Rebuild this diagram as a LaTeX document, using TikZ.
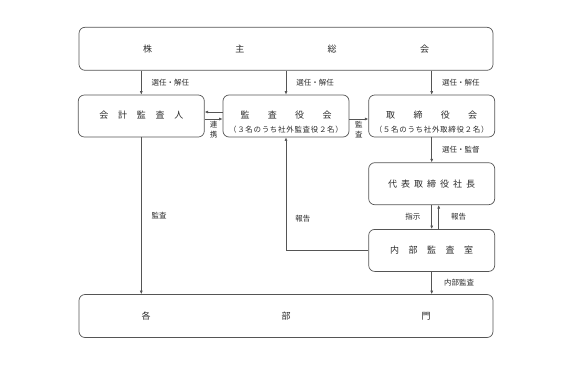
\documentclass[tikz,border=0pt]{standalone}
\usepackage{fontspec}
\setmainfont{Noto Sans CJK JP}
\usepackage{xcolor}
\usetikzlibrary{arrows.meta,positioning}
\definecolor{linegray}{HTML}{555555}
\definecolor{textgray}{HTML}{2A2A2A}

\begin{document}
\begin{tikzpicture}[
    node distance=18pt,
    box/.style={draw=linegray, line width=0.7pt, rounded corners=6pt, minimum width=126pt, minimum height=42pt, align=center, text=textgray, font=\fontsize{9pt}{11pt}\selectfont},
    widebox/.style={box, minimum width=414pt, minimum height=43pt},
    arrow/.style={-{Latex[length=3.5pt,width=3pt]}, linegray, line width=0.6pt},
    lbl/.style={text=textgray, inner sep=2pt, font=\fontsize{7.5pt}{9.5pt}\selectfont},
    sub/.style={text=textgray, inner sep=2pt, yshift=2pt, anchor=south, font={\fontsize{7.5pt}{9pt}\selectfont\addfontfeatures{LetterSpace=9}}}
]
    \useasboundingbox (0,0) rectangle (578pt,-375pt);

    \node[box, label={[sub]south:（３名のうち社外監査役２名）}] (kansa) at (286pt,-116pt) {\raisebox{3pt}{\makebox[91pt]{監\hfill 査\hfill 役\hfill 会}}};
    \node[box, left=of kansa] (auditor) {\raisebox{3pt}{\makebox[84pt]{会\hfill 計\hfill 監\hfill 査\hfill 人}}};
    \node[box, right=19pt of kansa, label={[sub]south:（５名のうち社外取締役２名）}] (board) {\raisebox{3pt}{\makebox[91pt]{取\hfill 締\hfill 役\hfill 会}}};
    \node[widebox, above=24pt of kansa] (gm) {\makebox[286pt]{株\hfill 主\hfill 総\hfill 会}};
    \node[box, below=25pt of board] (pres) {\makebox[87pt]{代\hfill 表\hfill 取\hfill 締\hfill 役\hfill 社\hfill 長}};
    \node[box, below=24pt of pres] (audit) {\makebox[83pt]{内\hfill 部\hfill 監\hfill 査\hfill 室}};
    \node[widebox] (depts) at (286pt,-316pt) {\makebox[289pt]{各\hfill 部\hfill 門}};

    % 株主総会から
    \draw[arrow] (gm.south -| auditor) -- node[lbl, right=8pt] {選任・解任} (auditor);
    \draw[arrow] (gm.south -| kansa) -- node[lbl, right=8pt] {選任・解任} (kansa);
    \draw[arrow] (gm.south -| board) -- node[lbl, right=8pt] {選任・解任} (board);

    % 監査役会まわり
    \draw[arrow] ([yshift=4pt]kansa.west) -- ([yshift=4pt]auditor.east);
    \draw[arrow] ([yshift=-3pt]auditor.east) -- node[lbl, below, align=center] {連\\携} ([yshift=-3pt]kansa.west);
    \draw[arrow] ([yshift=-3pt]kansa.east) -- node[lbl, below, align=center] {監\\査} ([yshift=-3pt]board.west);

    % 取締役会から内部監査室へ
    \draw[arrow] (board) -- node[lbl, right=8pt] {選任・監督} (pres);
    \draw[arrow] (pres) -- node[lbl, left=9pt] {指示} (audit);
    \draw[arrow] ([xshift=7pt]audit.north) -- node[lbl, right=10pt] {報告} ([xshift=7pt]pres.south);
    \draw[arrow] (audit.west) -| node[lbl, pos=0.64, right=7pt] {報告} (kansa);

    % 各部門へ
    \draw[arrow] (auditor) -- node[lbl, right=8pt] {監査} (depts.north -| auditor);
    \draw[arrow] (audit) -- node[lbl, right=10pt] {内部監査} (depts.north -| audit);
\end{tikzpicture}
\end{document}
